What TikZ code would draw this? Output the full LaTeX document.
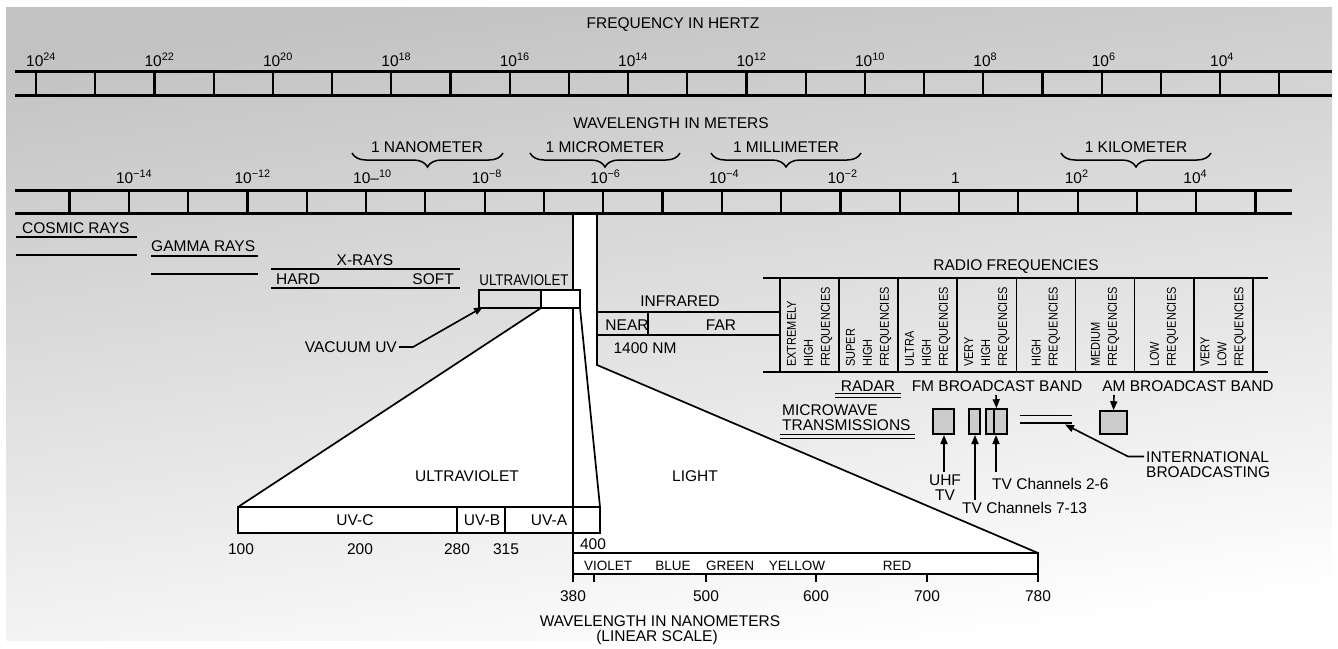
\documentclass[tikz,border=0pt]{standalone}
\usepackage{fontspec}
\setmainfont{Liberation Sans}
\newfontfamily\narrowfont[FakeStretch=0.86]{Liberation Sans}
\usetikzlibrary{arrows.meta,decorations.pathreplacing}
\begin{document}
\begin{tikzpicture}[x=1pt,y=-1pt,
  txt/.style={inner sep=0pt, anchor=base, font=\fontsize{15.5}{17}\selectfont},
  sm/.style={inner sep=0pt, anchor=base, font=\fontsize{13.5}{15}\selectfont},
  nar/.style={inner sep=0pt, anchor=base, font=\narrowfont\fontsize{15.5}{17}\selectfont},
  rad/.style={inner sep=0pt, rotate=90, anchor=west, align=left, font=\narrowfont\fontsize{12.8}{17}\selectfont},
  scl/.style={line width=2.2pt},
  ln/.style={line width=1.7pt},
  lnt/.style={line width=1.3pt},
  arr/.style={line width=1.6pt, -{Triangle[length=9pt,width=7pt]}},
  gbox/.style={draw, line width=1.6pt, fill=black!20},
  brc/.style={line width=1.5pt, decorate, decoration={brace, amplitude=14pt}},
]
\useasboundingbox (0,0) rectangle (1338,648);
\fill[white] (0,0) rectangle (1338,648);
\shade[top color=black!24, bottom color=white, shading angle=8] (6,7) rectangle (1332,640);

% white regions
\fill[white] (573,214) -- (597,214) -- (597,365) -- (1038,553) -- (573,553) -- cycle;
\fill[white] (541,308) -- (580,308) -- (600,507) -- (238,507) -- cycle;
\fill[white] (541,290) rectangle (580,308);
\fill[white] (573,553) rectangle (1038,574);
\fill[white] (238,507) rectangle (600,533);

% frequency scale
\node[txt] (fh) at (673,28.5) {FREQUENCY IN HERTZ};
\draw[scl] (15,71.5) -- (1332,71.5) (15,95.5) -- (1332,95.5);
\foreach \k in {0,...,21} \draw[scl] ({36+59.2*\k},71.5) -- ({36+59.2*\k},95.5);
\foreach \k/\e in {0/24,2/22,4/20,6/18,8/16,10/14,12/12,14/10,16/8,18/6,20/4}
  \node[txt, anchor=base west] (fl\k) at ({36+59.2*\k-10},66) {10\textsuperscript{\e}};

% wavelength scale
\node[txt] (wm) at (671,128.5) {WAVELENGTH IN METERS};
\draw[brc] (503,153) -- (352,153);
\draw[brc] (680,153) -- (530,153);
\draw[brc] (861,153) -- (711,153);
\draw[brc] (1211,153) -- (1061,153);
\node[txt] (nano) at (427,152) {1 NANOMETER};
\node[txt] (micro) at (605,152) {1 MICROMETER};
\node[txt] (milli) at (786,152) {1 MILLIMETER};
\node[txt] (kilo) at (1136,152) {1 KILOMETER};
\draw[scl] (15,190.5) -- (1292,190.5) (15,213.5) -- (1292,213.5);
\foreach \k in {0,...,20} \draw[scl] ({69.5+59.3*\k},190.5) -- ({69.5+59.3*\k},213.5);
\foreach \k/\e in {1/−14,3/−12,7/−8,9/−6,11/−4,13/−2,17/2,19/4}
  \node[txt, anchor=base west] (wl\k) at ({69.5+59.3*\k-13},183) {10\textsuperscript{\e}};
\node[txt, anchor=base west] (wl5) at ({69.5+59.3*5-13},183) {10–\textsuperscript{10}};
\node[txt, anchor=base west] (wl15) at ({69.5+59.3*15-8},183) {1};

% cosmic, gamma, x-rays
\node[txt, anchor=base west] (cr) at (22,233.5) {COSMIC RAYS};
\draw[ln] (16,237) -- (137,237) (16,255) -- (137,255);
\node[txt, anchor=base west] (gr) at (151,251) {GAMMA RAYS};
\draw[ln] (151,256) -- (258,256) (151,274) -- (258,274);
\node[txt] (xr) at (365,265) {X-RAYS};
\draw[ln] (271,269) -- (460,269) (271,288) -- (460,288);
\node[txt, anchor=base west] (hard) at (276,284.5) {HARD};
\node[txt, anchor=base east] (soft) at (454,284.5) {SOFT};

% ultraviolet small box
\node[nar] (uvs) at (524,285) {ULTRAVIOLET};
\draw[ln] (479,290) rectangle (580,308);
\draw[ln] (541,290) -- (541,308);
\coordinate (uvtip) at (483,307);
\node[txt, anchor=base east] (vac) at (397,352.5) {VACUUM UV};
\draw[arr] (vac.base east) ++(2,-5.5) -- (413,347) -- (uvtip);

% column and trapezoids
\draw[ln] (573,213.5) -- (573,290);
\draw[ln] (573,308) -- (573,582);
\draw[ln] (597,213.5) -- (597,365) -- (1038,553);
\draw[ln] (541,308) -- (238,507);
\draw[ln] (580,308) -- (600,507);

% UV bar
\draw[ln] (238,507) rectangle (600,533);
\draw[ln] (457,507) -- (457,533) (505,507) -- (505,533);
\node[txt] (uvc) at (355,525.5) {UV-C};
\node[txt] (uvb) at (482,525.5) {UV-B};
\node[txt] (uva) at (549,525.5) {UV-A};
\node[txt] (n100) at (241,554.5) {100};
\node[txt] (n200) at (360,554.5) {200};
\node[txt] (n280) at (457,554.5) {280};
\node[txt] (n315) at (506,554.5) {315};
\node[txt] (n400) at (593,549) {400};
\node[txt] (uvbig) at (467,481.5) {ULTRAVIOLET};
\node[txt] (light) at (695,481.5) {LIGHT};

% visible bar
\draw[ln] (573,553) rectangle (1038,574);
\draw[ln] (1038,574) -- (1038,582);
\foreach \x in {594,706,816,927} \draw[ln] (\x,574) -- (\x,582);
\node[sm] (vio) at (608,570) {VIOLET};
\node[sm] (blu) at (673,570) {BLUE};
\node[sm] (gre) at (730,570) {GREEN};
\node[sm] (yel) at (797,570) {YELLOW};
\node[sm] (red) at (897,570) {RED};
\node[txt] (n380) at (573,601.5) {380};
\node[txt] (n500) at (706,601.5) {500};
\node[txt] (n600) at (816,601.5) {600};
\node[txt] (n700) at (927,601.5) {700};
\node[txt] (n780) at (1038,601.5) {780};
\node[txt] (wnm) at (660,626) {WAVELENGTH IN NANOMETERS};
\node[txt] (lin) at (657,641) {(LINEAR SCALE)};

% infrared
\node[txt] (ir) at (680,306.5) {INFRARED};
\draw[ln] (597,312) -- (780,312) (597,335) -- (780,335) (648,312) -- (648,335);
\node[txt] (near) at (627,330) {NEAR};
\node[txt] (far) at (721,330) {FAR};
\node[txt] (nm1400) at (645,353) {1400 NM};

% radio
\node[txt] (rf) at (1016,270) {RADIO FREQUENCIES};
\draw[ln] (763,278) -- (1268,278) (763,372) -- (1268,372);
\foreach \k in {0,...,8} \draw[ln] ({780+59.1*\k},278) -- ({780+59.1*\k},372);
\node[rad] (r1) at ({780+59.1*0.5},367) {EXTREMELY\\HIGH\\FREQUENCIES};
\node[rad] (r2) at ({780+59.1*1.5},367) {SUPER\\HIGH\\FREQUENCIES};
\node[rad] (r3) at ({780+59.1*2.5},367) {ULTRA\\HIGH\\FREQUENCIES};
\node[rad] (r4) at ({780+59.1*3.5},367) {VERY\\HIGH\\FREQUENCIES};
\node[rad] (r5) at ({780+59.1*4.5},367) {HIGH\\FREQUENCIES};
\node[rad] (r6) at ({780+59.1*5.5},367) {MEDIUM\\FREQUENCIES};
\node[rad] (r7) at ({780+59.1*6.5},367) {LOW\\FREQUENCIES};
\node[rad] (r8) at ({780+59.1*7.5},367) {VERY\\LOW\\FREQUENCIES};

% below radio
\node[txt] (radar) at (868,391) {RADAR};
\draw[lnt] (835,393.5) -- (901,393.5) (835,397.5) -- (901,397.5);
\node[txt] (fm) at (997,391) {FM BROADCAST BAND};
\node[txt] (am) at (1188,391) {AM BROADCAST BAND};
\node[txt, anchor=base west] (mw1) at (782,415) {MICROWAVE};
\node[txt, anchor=base west] (mw2) at (782,430) {TRANSMISSIONS};
\draw[lnt] (780,434.5) -- (915,434.5) (780,438.5) -- (915,438.5);

\node[gbox, minimum width=21pt, minimum height=25pt, inner sep=0pt] (uhfbox) at (943.5,421.5) {};
\node[gbox, minimum width=11pt, minimum height=25pt, inner sep=0pt] (vhfhi) at (974.5,421.5) {};
\node[gbox, minimum width=21pt, minimum height=25pt, inner sep=0pt] (vhflo) at (996.5,421.5) {};
\draw[ln] (994,409) -- (994,434);
\node[gbox, minimum width=27pt, minimum height=23pt, inner sep=0pt] (ambox) at (1113.5,422.5) {};
\draw[ln] (1020,415.5) -- (1072,415.5) (1020,423) -- (1072,423);
\coordinate (swtip) at (1065,424.5);

\draw[arr] (996,395) -- (vhflo.north);
\draw[arr] (1114,395) -- (ambox.north);

\node[txt] (uhf1) at (945,485) {UHF};
\node[txt] (uhf2) at (945,500) {TV};
\node[txt, anchor=base west] (tv26) at (992,489) {TV Channels 2-6};
\node[txt, anchor=base west] (tv713) at (962,513.5) {TV Channels 7-13};
\draw[arr] (944,472) -- (944,435);
\draw[arr] (975,500) -- (975,435);
\draw[arr] (996,472) -- (996,435);

\node[txt, anchor=base west] (intl1) at (1146,462) {INTERNATIONAL};
\node[txt, anchor=base west] (intl2) at (1146,477) {BROADCASTING};
\draw[arr] (1144,456.5) -- (1128,456.5) -- (swtip);
\end{tikzpicture}
\end{document}
